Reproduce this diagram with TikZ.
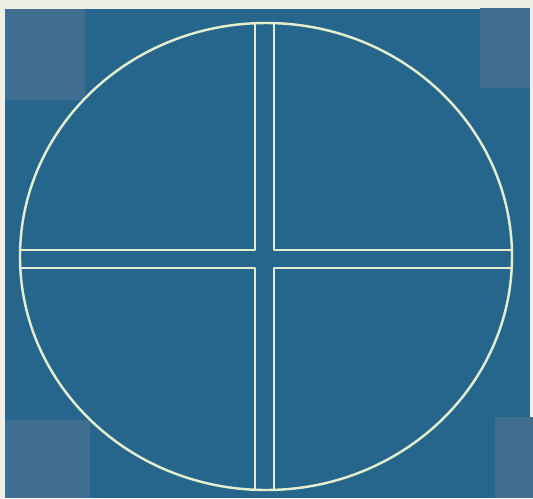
\documentclass[tikz,border=0pt]{standalone}
\usepackage{xcolor}
\usetikzlibrary{calc}
\definecolor{paper}{RGB}{238,240,232}
\definecolor{cyano}{RGB}{38,102,140}
\definecolor{fade}{RGB}{64,110,145}
\definecolor{chalk}{RGB}{226,238,206}

\begin{document}
\begin{tikzpicture}[x=0.02cm,y=-0.02cm]
\def\cx{266}
\def\cy{256.5}
\def\rx{246}
\def\ry{233.5}
\coordinate (O) at (\cx,\cy);
\fill[paper] (0,0) rectangle (533,498);
\useasboundingbox (0,0) rectangle (533,498);
\fill[cyano] (5,9) rectangle (530,498);
% faded corner patches
\fill[fade] (5,9) rectangle (85,100);
\fill[fade] (480,8) rectangle (530,88);
\fill[fade] (5,420) rectangle (90,498);
\fill[fade] (495,417) rectangle (533,498);
\begin{scope}
\clip (O) ellipse [x radius=\rx, y radius=\ry];
\draw[chalk,line width=1.3pt,line join=round]
  (0,250) -- (255,250) -- (255,0)
  (274,0) -- (274,250) -- (533,250)
  (0,268) -- (255,268) -- (255,498)
  (274,498) -- (274,268) -- (533,268);
\end{scope}
\draw[chalk,line width=1.4pt] (O) ellipse [x radius=\rx, y radius=\ry];
\end{tikzpicture}
\end{document}
